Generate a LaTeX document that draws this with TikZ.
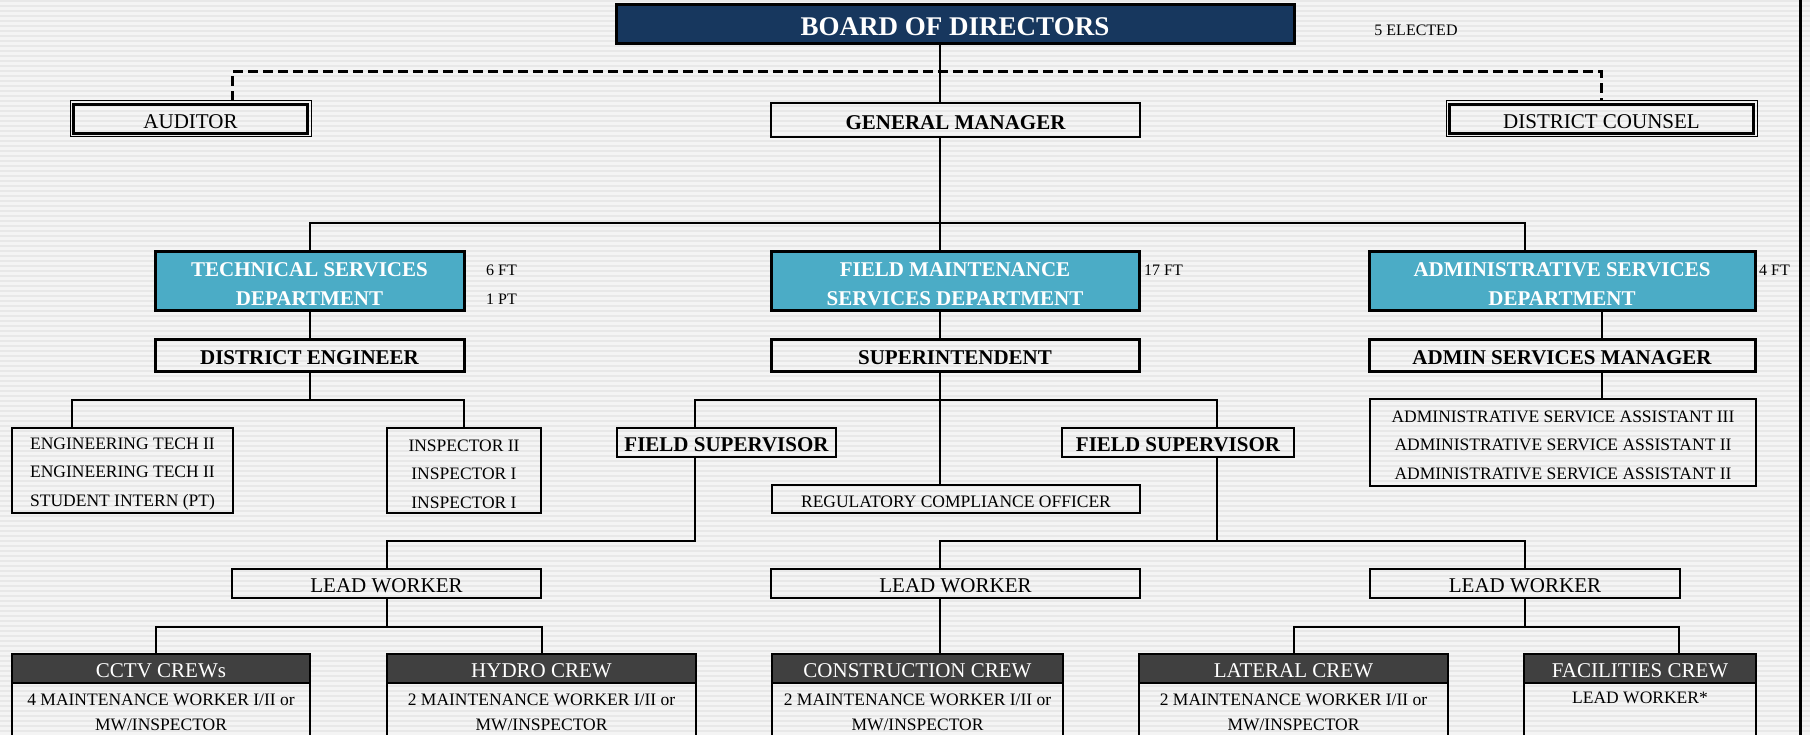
\documentclass[tikz,border=0pt]{standalone}
\usepackage{fontspec}
\setmainfont{Liberation Serif}
\usetikzlibrary{calc}
\definecolor{navy}{HTML}{17375E}
\definecolor{deptblue}{HTML}{4BACC6}
\definecolor{crewgray}{HTML}{404040}
\definecolor{bgbase}{HTML}{F4F4F4}
\definecolor{bgstripe}{HTML}{E8E8E8}
\newcommand{\fsz}[2]{\fontsize{#1}{#2}\selectfont}
\newcommand{\bx}[7]{\node[#2, minimum width=#5pt, minimum height=#6pt] (#1) at (#3,#4) {#7};}
\newcommand{\lowr}[1]{\rule{0pt}{\dimexpr0.66em+#1pt\relax}}
\begin{document}
\begin{tikzpicture}[x=1pt,y=-1pt,
  box/.style={draw=black, line width=2pt, inner sep=0pt, outer sep=0pt, anchor=north west, align=center,
    execute at begin node={\lowr{5}}},
  heavybox/.style={box, line width=3pt},
  boardbox/.style={heavybox, fill=navy, text=white, font=\bfseries\fsz{27}{30}},
  deptbox/.style={heavybox, fill=deptblue, text=white, font=\bfseries\fsz{21}{29}},
  headbox/.style={heavybox, font=\bfseries\fsz{21}{25}},
  boldbox/.style={box, font=\bfseries\fsz{21}{25}},
  plainbox/.style={box, font=\fsz{21}{25}},
  dblbox/.style={box, line width=1pt, font=\fsz{21}{25}},
  listbox/.style={box, font=\fsz{17.5}{28.4}},
  crewhead/.style={box, fill=crewgray, text=white, font=\fsz{21}{25}},
  crewtxt/.style={inner sep=0pt, align=center, anchor=north, font=\fsz{17.5}{25}},
  note/.style={inner sep=0pt, font=\fsz{16}{18}},
  conn/.style={draw=black, line width=2pt},
  dashline/.style={draw=black, line width=3pt, dash pattern=on 10pt off 5pt},
  innerline/.style={draw=black, line width=2.2pt},
  bodyline/.style={draw=black, line width=2pt}
]
\useasboundingbox (0,0) rectangle (1810,735);
\clip (0,0) rectangle (1810,735);
% background
\fill[bgbase] (0,0) rectangle (1810,735);
\foreach \i in {0,...,147} {\fill[bgstripe] (0,\i*5) rectangle (1810,\i*5+2);}
\draw[line width=3pt] (1800,0) -- (1800,735);

% nodes
\bx{board}{boardbox}{616}{5}{678}{39}{BOARD OF DIRECTORS}
\node[note] (elected) at (1416,30) {5 ELECTED};
\bx{aud}{dblbox}{70}{101}{241}{36}{AUDITOR}
\bx{gm}{boldbox}{771}{103}{369}{34}{GENERAL MANAGER}
\bx{coun}{dblbox}{1446}{101}{311}{36}{DISTRICT COUNSEL}
\draw[innerline] ($(aud.north west)+(3.5,3.5)$) rectangle ($(aud.south east)+(-3.5,-3.5)$);
\draw[innerline] ($(coun.north west)+(3.5,3.5)$) rectangle ($(coun.south east)+(-3.5,-3.5)$);

\bx{ts}{deptbox}{155}{252}{309}{59}{\lowr{5}TECHNICAL SERVICES\\DEPARTMENT}
\bx{fm}{deptbox}{771}{252}{368}{59}{\lowr{5}FIELD MAINTENANCE\\SERVICES DEPARTMENT}
\bx{adm}{deptbox}{1369}{252}{386}{59}{\lowr{5}ADMINISTRATIVE SERVICES\\DEPARTMENT}
\node[note, anchor=west] (tsft) at (486,270) {6 FT};
\node[note, anchor=west] (tspt) at (486,299) {1 PT};
\node[note, anchor=west] (fmft) at (1144,270) {17 FT};
\node[note, anchor=west] (admft) at (1759,270) {4 FT};

\bx{de}{headbox}{155}{340}{309}{31}{DISTRICT ENGINEER}
\bx{sup}{headbox}{771}{340}{368}{31}{SUPERINTENDENT}
\bx{asm}{headbox}{1369}{340}{386}{31}{ADMIN SERVICES MANAGER}

\bx{eng}{listbox}{12}{428}{221}{85}{\lowr{7}ENGINEERING TECH II\\ENGINEERING TECH II\\STUDENT INTERN (PT)}
\bx{insp}{listbox}{387}{428}{154}{85}{\lowr{7}INSPECTOR II\\INSPECTOR I\\INSPECTOR I}
\bx{fsl}{boldbox}{617}{428}{219}{29}{FIELD SUPERVISOR}
\bx{fsr}{boldbox}{1062}{428}{232}{29}{FIELD SUPERVISOR}
\bx{rco}{listbox}{772}{485}{368}{28}{REGULATORY COMPLIANCE OFFICER}
\bx{asst}{listbox}{1370}{399}{386}{87}{\lowr{5}ADMINISTRATIVE SERVICE ASSISTANT III\\ADMINISTRATIVE SERVICE ASSISTANT II\\ADMINISTRATIVE SERVICE ASSISTANT II}

\bx{lwl}{plainbox}{232}{569}{309}{29}{LEAD WORKER}
\bx{lwc}{plainbox}{771}{569}{369}{29}{LEAD WORKER}
\bx{lwr}{plainbox}{1370}{569}{310}{29}{LEAD WORKER}

\bx{cctvh}{crewhead}{12}{654}{298}{29}{CCTV CREWs}
\bx{hydroh}{crewhead}{387}{654}{309}{29}{HYDRO CREW}
\bx{consh}{crewhead}{772}{654}{291}{29}{CONSTRUCTION CREW}
\bx{lath}{crewhead}{1139}{654}{309}{29}{LATERAL CREW}
\bx{fach}{crewhead}{1524}{654}{232}{29}{FACILITIES CREW}
\foreach \c in {cctvh,hydroh,consh,lath,fach} {\draw[bodyline] (\c.south west) rectangle ($(\c.south east)+(0,200)$);}
\node[crewtxt] (cctvb) at ($(cctvh.south)+(0,11)$) {4 MAINTENANCE WORKER I/II or\\MW/INSPECTOR};
\node[crewtxt] (hydrob) at ($(hydroh.south)+(0,11)$) {2 MAINTENANCE WORKER I/II or\\MW/INSPECTOR};
\node[crewtxt] (consb) at ($(consh.south)+(0,11)$) {2 MAINTENANCE WORKER I/II or\\MW/INSPECTOR};
\node[crewtxt] (latb) at ($(lath.south)+(0,11)$) {2 MAINTENANCE WORKER I/II or\\MW/INSPECTOR};
\node[crewtxt] (facb) at ($(fach.south)+(0,9)$) {LEAD WORKER*};

% connector guides
\coordinate (spine) at (940,0);
\coordinate (audx) at (232,0);
\coordinate (dashy) at (0,72);
\coordinate (bus) at (0,223);
\coordinate (asx) at (1525,0);
\coordinate (admx) at (1602,0);
\coordinate (engx) at (72,0);
\coordinate (fslx) at (695,0);
\coordinate (fsrx) at (1217,0);
\coordinate (brka) at (0,400);
\coordinate (brkb) at (0,541);
\coordinate (brkc) at (0,627);
\coordinate (cctvx) at (156,0);
\coordinate (facx) at (1679,0);

% connectors
\draw[dashline] (aud.north -| audx) -- (audx |- dashy) -- (coun.north |- dashy) -- (coun.north);
\draw[conn] (board.south -| spine) -- (gm.north -| spine);
\draw[conn] (gm.south -| spine) -- (fm.north -| spine);
\draw[conn] (ts.north) -- (ts.north |- bus) -- (asx |- bus) -- (adm.north -| asx);
\draw[conn] (ts.south) -- (de.north);
\draw[conn] (fm.south -| spine) -- (sup.north -| spine);
\draw[conn] (adm.south -| admx) -- (asm.north -| admx);
\draw[conn] (de.south) -- (de.south |- brka);
\draw[conn] (eng.north -| engx) -- (engx |- brka) -- (insp.north |- brka) -- (insp.north);
\draw[conn] (sup.south -| spine) -- (rco.north -| spine);
\draw[conn] (fsl.north -| fslx) -- (fslx |- brka) -- (fsrx |- brka) -- (fsr.north -| fsrx);
\draw[conn] (asm.south -| admx) -- (asst.north -| admx);
\draw[conn] (fsl.south -| fslx) -- (fslx |- brkb) -- (lwl.north |- brkb) -- (lwl.north);
\draw[conn] (fsr.south -| fsrx) -- (fsrx |- brkb);
\draw[conn] (lwc.north -| spine) -- (spine |- brkb) -- (lwr.north |- brkb) -- (lwr.north);
\draw[conn] (lwl.south) -- (lwl.south |- brkc);
\draw[conn] (cctvh.north -| cctvx) -- (cctvx |- brkc) -- (hydroh.north |- brkc) -- (hydroh.north);
\draw[conn] (lwc.south -| spine) -- (consh.north -| spine);
\draw[conn] (lwr.south) -- (lwr.south |- brkc);
\draw[conn] (lath.north) -- (lath.north |- brkc) -- (facx |- brkc) -- (fach.north -| facx);
\end{tikzpicture}
\end{document}
